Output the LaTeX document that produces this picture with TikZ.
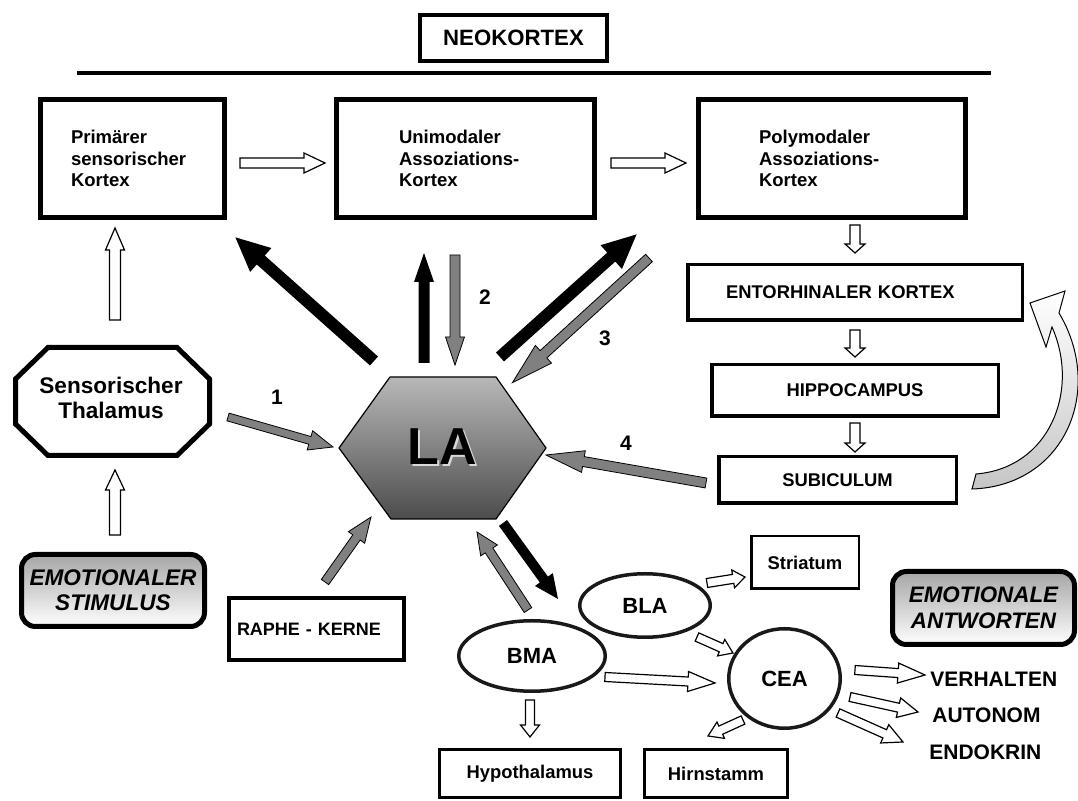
\documentclass[tikz,border=0pt]{standalone}
\usepackage{fontspec}
\setmainfont{Liberation Sans}
\usetikzlibrary{calc,shapes.geometric}

\definecolor{latop}{gray}{0.72}
\definecolor{labot}{gray}{0.30}
\definecolor{arrgray}{gray}{0.50}

% block arrow: [style]{tail}{tip}{half shaft}{half head}{head length}, sizes in px
\newcommand{\barrow}[6][]{%
  \path let \p1=($(#3)-(#2)$) in \pgfextra{%
    \pgfmathsetmacro\tmpang{atan2(\y1,\x1)}\global\let\baang\tmpang
    \pgfmathsetmacro\tmplen{veclen(\x1,\y1)}\global\let\balen\tmplen};
  \path[shift={(#2)},rotate=\baang,#1]
    (0pt,-#4*0.5pt) -- (\balen pt-#6*0.5pt,-#4*0.5pt) -- (\balen pt-#6*0.5pt,-#5*0.5pt)
    -- (\balen pt,0pt) -- (\balen pt-#6*0.5pt,#5*0.5pt) -- (\balen pt-#6*0.5pt,#4*0.5pt)
    -- (0pt,#4*0.5pt) -- cycle;}

\tikzset{
  titlebox/.style={draw, line width=2pt, inner sep=0pt, font=\bfseries\fontsize{11.1}{13}\selectfont},
  cortexbox/.style={draw, line width=2.5pt, align=left, inner ysep=0pt, minimum height=59pt,
    font=\bfseries\fontsize{9.25}{10.75}\selectfont},
  hippobox/.style={draw, line width=1.75pt, inner sep=0pt, font=\bfseries\fontsize{9.2}{11}\selectfont},
  smallbox/.style={draw, line width=1.5pt, inner sep=0pt, font=\bfseries\fontsize{9.2}{11}\selectfont},
  nucleus/.style={ellipse, draw=black!90, line width=1.75pt, inner sep=0pt,
    font=\bfseries\fontsize{11}{13}\selectfont},
  emobox/.style={draw, line width=2.5pt, rounded corners=7pt, inner sep=0pt, align=center,
    top color=gray!70, bottom color=white, font=\bfseries\itshape\fontsize{11.3}{12.5}\selectfont},
  outtext/.style={anchor=west, inner sep=0pt, font=\bfseries\fontsize{10.5}{12}\selectfont},
  numlabel/.style={inner sep=0pt, font=\bfseries\fontsize{10.5}{12}\selectfont},
  latext/.style={inner sep=0pt, font=\bfseries\fontsize{26}{30}\selectfont},
  blackarr/.style={fill=black},
  grayarr/.style={fill=arrgray, draw=black, line width=0.4pt},
  hollowarr/.style={fill=white, draw=black, line width=0.6pt}
}

\begin{document}
\begin{tikzpicture}[x=0.5pt,y=-0.5pt]
\useasboundingbox (0,0) rectangle (1078,801);

% neokortex
\node[titlebox, minimum width=93.5pt, minimum height=23pt] (neo) at (513.5,38) {NEOKORTEX};
\draw[line width=2.25pt] (77,73) -- (991,73);
\node[cortexbox, text width=61.5pt, inner xsep=15.25pt] (prim) at (132.5,158.5) {Primärer\\sensorischer\\Kortex};
\node[cortexbox, text width=66.5pt, inner xsep=31.25pt] (uni) at (465.5,158.5) {Unimodaler\\Assoziations-\\Kortex};
\node[cortexbox, text width=73pt, inner xsep=30.25pt] (poly) at (832,158.5) {Polymodaler\\Assoziations-\\Kortex};

% hippocampal loop
\node[hippobox, align=left, text width=129pt, inner xsep=19.125pt, minimum height=27.75pt] (ento) at (855,292.5) {ENTORHINALER KORTEX};
\node[hippobox, minimum width=143.25pt, minimum height=25.75pt] (hippo) at (855,390.5) {HIPPOCAMPUS};
\node[hippobox, minimum width=118.75pt, minimum height=23.25pt] (subi) at (837.5,480) {SUBICULUM};

% thalamus and stimulus
\draw[line width=2.5pt] (48,347.5) -- (177,347.5) -- (209.5,379) -- (209.5,424) -- (177,455.5)
  -- (48,455.5) -- (15.5,424) -- (15.5,379) -- cycle;
\node[inner sep=0pt, align=center, font=\bfseries\fontsize{11.3}{12.5}\selectfont] (thal) at (111,397.5) {Sensorischer\\Thalamus};
\node[emobox, minimum width=91.5pt, minimum height=36pt] (stim) at (113,590.5) {EMOTIONALER\\STIMULUS};
\node[smallbox, line width=2pt, align=left, text width=79.5pt, inner xsep=4pt, minimum height=31pt,
  font=\bfseries\fontsize{9}{11}\selectfont] (raphe) at (316.5,629) {RAPHE - KERNE};

% lateral amygdala
\path[top color=latop, bottom color=labot, draw=black, line width=0.6pt]
  (339,448) -- (390,377) -- (496,377) -- (546,448) -- (496,519) -- (391,519) -- cycle;
\node[latext, text=gray!30] (la-shadow) at (444,449) {LA};
\node[latext] (la) at (442,447) {LA};

% amygdala nuclei and targets
\node[nucleus, minimum width=73.25pt, minimum height=35.25pt] (bma) at (532,656) {BMA};
\node[nucleus, minimum width=65.25pt, minimum height=31.75pt] (bla) at (645,605.5) {BLA};
\node[nucleus, minimum width=55.75pt, minimum height=49.75pt] (cea) at (784.5,678.5) {CEA};
\node[smallbox, line width=1.25pt, minimum width=53.75pt, minimum height=26.25pt] (stri) at (805,562.5) {Striatum};
\node[smallbox, minimum width=90.5pt, minimum height=24pt] (hypo) at (530,773.5) {Hypothalamus};
\node[smallbox, minimum width=71.5pt, minimum height=24pt] (hirn) at (716,773.5) {Hirnstamm};
\node[emobox, minimum width=91pt, minimum height=36.5pt,
  font=\bfseries\itshape\fontsize{11.2}{13}\selectfont] (antw) at (983.5,608) {EMOTIONALE\\ANTWORTEN};
\node[outtext] (verh) at (930,679) {VERHALTEN};
\node[outtext] (autonom) at (932,715) {AUTONOM};
\node[outtext] (endo) at (929,752) {ENDOKRIN};

% pathway numbers
\node[numlabel] (n1) at (277,397) {1};
\node[numlabel] (n2) at (485,297) {2};
\node[numlabel] (n3) at (605,338) {3};
\node[numlabel] (n4) at (626,443) {4};

% arrow ends
\foreach \n/\a/\b in {b1t/374/361, b1h/235/237, b2t/424/363, b2h/424/253,
    b3t/500/357, b3h/637/234, b4t/503/523, b4h/558/599,
    g1t/228/417, g1h/333/447, g2t/455/255, g2h/455/365, g3t/649/258, g3h/512/383,
    g4t/706/483, g4h/546/455, g5t/325/582, g5h/371/517, g6t/528/610, g6h/477/532,
    h1t/240/163, h1h/325/163, h2t/611/163, h2h/686/163, h3t/115/320, h3h/115/228,
    h4t/115/535, h4h/115/470, h5t/855/225, h5h/855/253, h6t/855/330, h6h/855/357,
    h7t/855/423, h7h/855/452, h8t/530/700, h8h/530/737, h9t/605/677, h9h/715/683,
    h10t/697/637, h10h/733/653, h11t/707/583, h11h/745/577, h12t/743/720, h12h/708/736,
    h13t/855/670, h13h/925/675, h14t/850/697, h14h/918/712, h15t/838/713, h15h/903/742}
  \coordinate (\n) at (\a,\b);

% LA output to cortex
\barrow[blackarr]{b1t}{b1h}{6}{16}{34}
\barrow[blackarr]{b2t}{b2h}{5.5}{10}{29}
\barrow[blackarr]{b3t}{b3h}{6}{16}{34}
\barrow[blackarr]{b4t}{b4h}{5}{11}{24}
% inputs to LA
\barrow[grayarr]{g1t}{g1h}{4}{10}{24}
\barrow[grayarr]{g2t}{g2h}{5}{9.5}{28}
\barrow[grayarr]{g3t}{g3h}{5}{12}{42}
\barrow[grayarr]{g4t}{g4h}{5}{11}{38}
\barrow[grayarr]{g5t}{g5h}{4.5}{10}{25}
\barrow[grayarr]{g6t}{g6h}{4.5}{10}{22}
% hollow arrows
\barrow[hollowarr]{h1t}{h1h}{5}{10}{21}
\barrow[hollowarr]{h2t}{h2h}{5}{10}{21}
\barrow[hollowarr]{h3t}{h3h}{5.5}{9.5}{22}
\barrow[hollowarr]{h4t}{h4h}{5.5}{9.5}{20}
\barrow[hollowarr]{h5t}{h5h}{5}{10}{9}
\barrow[hollowarr]{h6t}{h6h}{5}{10}{9}
\barrow[hollowarr]{h7t}{h7h}{5}{10}{9}
\barrow[hollowarr]{h8t}{h8h}{4.5}{9.5}{12}
\barrow[hollowarr]{h9t}{h9h}{4.5}{10}{27}
\barrow[hollowarr]{h10t}{h10h}{4.5}{9}{13}
\barrow[hollowarr]{h11t}{h11h}{4.5}{9}{12}
\barrow[hollowarr]{h12t}{h12h}{4.5}{9}{14}
\barrow[hollowarr]{h13t}{h13h}{4.5}{10}{27}
\barrow[hollowarr]{h14t}{h14h}{4.5}{10}{20}
\barrow[hollowarr]{h15t}{h15h}{4.5}{10}{20}

% subiculum back to entorhinal cortex
\draw[line width=0.5pt, top color=white, bottom color=gray!45]
  (972,489) .. controls (1065,486) and (1105,390) .. (1059,313) -- (1065,291) -- (1030,303)
  -- (1046,347) -- (1052,327) .. controls (1080,390) and (1050,468) .. (976,474) -- cycle;
\end{tikzpicture}
\end{document}
